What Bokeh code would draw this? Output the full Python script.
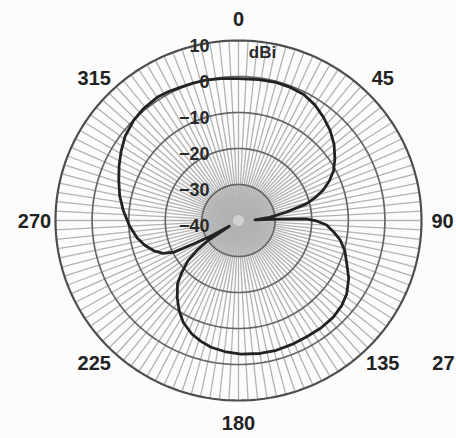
import numpy as np
from bokeh.plotting import figure
from bokeh.models import Range1d
from bokeh.embed import file_html
from bokeh.resources import INLINE
from bokeh.core.properties import value

# ---- data (azimuth in degrees, clockwise from top; gain in dBi)
angle_deg = [0, 8, 15, 21, 27, 33, 39, 45, 51, 57, 62, 66, 70, 73, 76, 80, 84, 87.5,
             88, 88.6, 90.5, 93, 97, 101, 106, 112, 118, 124.5, 130, 136, 143, 150,
             157, 164, 171, 179, 186, 192, 197, 202, 208, 213, 218, 223.5, 227, 231,
             234, 236.3, 237.7, 240, 242, 243.5, 246, 250, 255, 260, 267, 275, 282,
             289, 295, 301, 307, 314, 320, 327, 332, 337, 342, 347, 353, 360]
gain_dbi = [-0.6, -0.5, -0.3, -0.4, -0.7, -1.7, -3.1, -4.6, -6.4, -8.6, -10.6, -12.8,
            -15.4, -18.0, -20.9, -26.8, -31.5, -35.5, -29.0, -21.5, -18.5, -15.9, -13.8,
            -11.7, -9.8, -8.1, -5.9, -4.1, -3.2, -2.7, -2.6, -2.7, -2.6, -2.5, -2.6,
            -2.9, -3.4, -4.0, -4.9, -6.0, -7.9, -10.2, -12.8, -15.8, -18.8, -22.2,
            -26.0, -30.0, -37.0, -31.5, -26.4, -20.3, -17.5, -15.4, -13.5, -11.9,
            -10.2, -8.4, -6.8, -5.4, -4.0, -2.6, -1.2, -0.1, 0.5, 0.8, 0.6, 0.25, 0.1,
            0.0, -0.3, -0.6]

ring_dbi = [10, 0, -10, -20, -30]
ring_label_dbi = [10, 0, -10, -20, -30, -40]
ring_labels = ["10", "0", "\u221210", "\u221220", "\u221230", "\u221240"]
angle_ticks = [0, 45, 90, 135, 180, 225, 270, 315]
angle_labels = ["0", "45", "90", "135", "180", "225", "270", "315"]
unit_label = "dBi"
neighbour_label = "27"      # visible part of the neighbouring chart's label at the edge
spoke_step_deg = 3

# ---- layout (page has no margin: figure fills the window)
W, H = 456, 438
CX, CY = 238, 220           # centre of the polar grid in page pixels
DB_MIN = -40
SX, SY = 3.66, 3.60         # pixels per dB horizontally / vertically
FONT = value("Liberation Sans")


def polar_xy(ang_deg, db):
    a = np.deg2rad(np.asarray(ang_deg, dtype=float))
    r = np.asarray(db, dtype=float) - DB_MIN
    return r * SX * np.sin(a), r * SY * np.cos(a)


p = figure(width=W, height=H,
           x_range=Range1d(-CX, W - CX),
           y_range=Range1d(CY - H, CY),
           x_axis_type=None, y_axis_type=None,
           output_backend="svg", toolbar_location=None, min_border=0)
p.grid.visible = False
p.outline_line_color = None
p.background_fill_color = "#fcfcfc"
p.border_fill_color = "#fcfcfc"

full = np.linspace(0, 360, 361)

# inner shaded disk (inside -30 dBi ring)
ix, iy = polar_xy(full, np.full(full.shape, -30.0))
p.patch(x=ix, y=iy, fill_color="#d0d0d0", line_color=None)

# spokes
sp = np.arange(0, 360, spoke_step_deg)
x0, y0 = polar_xy(sp, np.full(sp.shape, -38.4))
x1, y1 = polar_xy(sp, np.full(sp.shape, 10.0))
p.segment(x0=x0, y0=y0, x1=x1, y1=y1, line_color="#b2b2b2", line_width=1.3)

# rings
for db in ring_dbi:
    rx, ry = polar_xy(full, np.full(full.shape, float(db)))
    p.line(x=rx, y=ry, line_color="#4e4e4e" if db == 10 else "#666666",
           line_width=2.2 if db == 10 else 1.7)

# pattern
px, py = polar_xy(angle_deg, gain_dbi)
p.line(x=px, y=py, line_color="#222222", line_width=2.8, line_join="round")

# dB labels
lx = [-29.0] * len(ring_label_dbi)
ly = list((np.array(ring_label_dbi, dtype=float) - DB_MIN) * SY - 5)
p.text(x=lx, y=ly, text=ring_labels, text_font=FONT, text_font_style="bold",
       text_font_size="18px", text_align="right", text_baseline="middle",
       text_color="#2a2a2a")
p.text(x=[24], y=[(10 - DB_MIN) * SY - 12], text=[unit_label], text_font=FONT,
       text_font_style="bold", text_font_size="17px", text_align="center",
       text_baseline="middle", text_color="#2a2a2a")

# angle labels
ta = np.deg2rad(angle_ticks)
p.text(x=list(204 * np.sin(ta)), y=list(202 * np.cos(ta)), text=angle_labels,
       text_font=FONT, text_font_style="bold", text_font_size="20px",
       text_align="center", text_baseline="middle", text_color="#222222")

# neighbouring chart's label fragment at the right edge
p.text(x=[W - CX - 2], y=[CY - 362], text=[neighbour_label], text_font=FONT,
       text_font_style="bold", text_font_size="20px", text_align="right",
       text_baseline="middle", text_color="#222222")

open("out.html", "w").write(file_html(p, INLINE))
